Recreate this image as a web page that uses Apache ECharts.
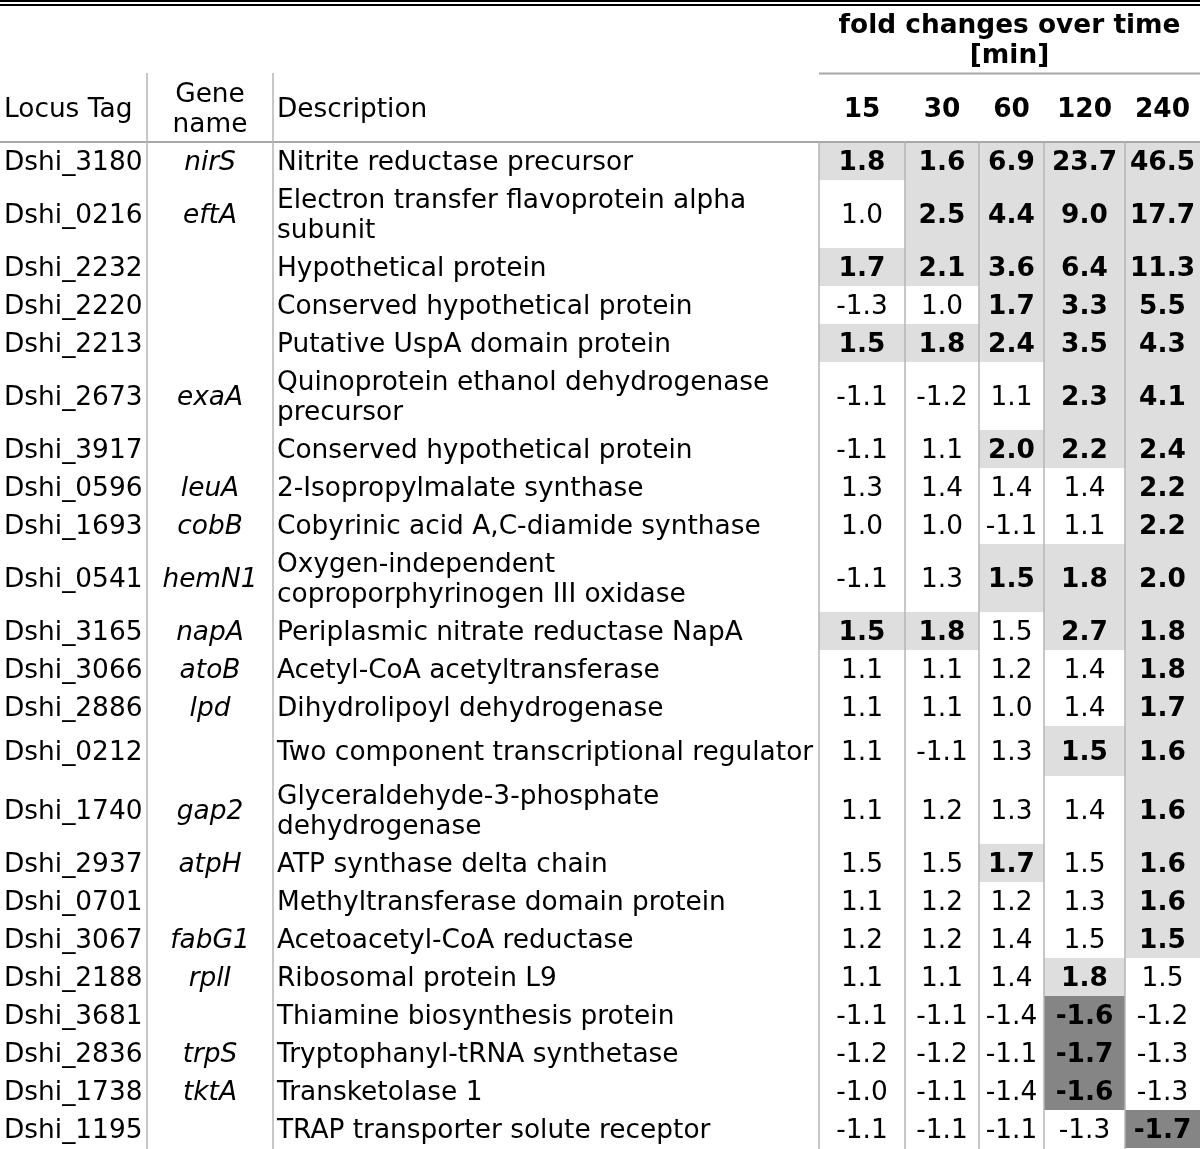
<!DOCTYPE html>
<html>
<head>
<meta charset="utf-8">
<script src="https://cdn.jsdelivr.net/npm/echarts@6/dist/echarts.min.js"></script>
<style>html,body{margin:0;padding:0;background:#fff;}#c{width:1200px;height:1149px;}</style>
</head>
<body>
<div id="c"></div>
<script>
// ---------- DATA ----------
const locusTags = ['Dshi_3180','Dshi_0216','Dshi_2232','Dshi_2220','Dshi_2213','Dshi_2673','Dshi_3917','Dshi_0596','Dshi_1693','Dshi_0541','Dshi_3165','Dshi_3066','Dshi_2886','Dshi_0212','Dshi_1740','Dshi_2937','Dshi_0701','Dshi_3067','Dshi_2188','Dshi_3681','Dshi_2836','Dshi_1738','Dshi_1195'];
const geneNames = ['nirS','eftA','','','','exaA','','leuA','cobB','hemN1','napA','atoB','lpd','','gap2','atpH','','fabG1','rplI','','trpS','tktA',''];
const descriptions = [
  'Nitrite reductase precursor',
  'Electron transfer flavoprotein alpha\nsubunit',
  'Hypothetical protein',
  'Conserved hypothetical protein',
  'Putative UspA domain protein',
  'Quinoprotein ethanol dehydrogenase\nprecursor',
  'Conserved hypothetical protein',
  '2-Isopropylmalate synthase',
  'Cobyrinic acid A,C-diamide synthase',
  'Oxygen-independent\ncoproporphyrinogen III oxidase',
  'Periplasmic nitrate reductase NapA',
  'Acetyl-CoA acetyltransferase',
  'Dihydrolipoyl dehydrogenase',
  'Two component transcriptional regulator',
  'Glyceraldehyde-3-phosphate\ndehydrogenase',
  'ATP synthase delta chain',
  'Methyltransferase domain protein',
  'Acetoacetyl-CoA reductase',
  'Ribosomal protein L9',
  'Thiamine biosynthesis protein',
  'Tryptophanyl-tRNA synthetase',
  'Transketolase 1',
  'TRAP transporter solute receptor'
];
const timePoints = ['15','30','60','120','240'];
const headerLabels = ['Locus Tag','Gene\nname','Description'];
const groupTitle = 'fold changes over time\n[min]';

const fc15  = [1.8,1.0,1.7,-1.3,1.5,-1.1,-1.1,1.3,1.0,-1.1,1.5,1.1,1.1,1.1,1.1,1.5,1.1,1.2,1.1,-1.1,-1.2,-1.0,-1.1];
const fc30  = [1.6,2.5,2.1,1.0,1.8,-1.2,1.1,1.4,1.0,1.3,1.8,1.1,1.1,-1.1,1.2,1.5,1.2,1.2,1.1,-1.1,-1.2,-1.1,-1.1];
const fc60  = [6.9,4.4,3.6,1.7,2.4,1.1,2.0,1.4,-1.1,1.5,1.5,1.2,1.0,1.3,1.3,1.7,1.2,1.4,1.4,-1.4,-1.1,-1.4,-1.1];
const fc120 = [23.7,9.0,6.4,3.3,3.5,2.3,2.2,1.4,1.1,1.8,2.7,1.4,1.4,1.5,1.4,1.5,1.3,1.5,1.8,-1.6,-1.7,-1.6,-1.3];
const fc240 = [46.5,17.7,11.3,5.5,4.3,4.1,2.4,2.2,2.2,2.0,1.8,1.8,1.7,1.6,1.6,1.6,1.6,1.5,1.5,-1.2,-1.3,-1.3,-1.7];

const sig15  = [1,0,1,0,1,0,0,0,0,0,1,0,0,0,0,0,0,0,0,0,0,0,0];
const sig30  = [1,1,1,0,1,0,0,0,0,0,1,0,0,0,0,0,0,0,0,0,0,0,0];
const sig60  = [1,1,1,1,1,0,1,0,0,1,0,0,0,0,0,1,0,0,0,0,0,0,0];
const sig120 = [1,1,1,1,1,1,1,0,0,1,1,0,0,1,0,0,0,0,1,1,1,1,0];
const sig240 = [1,1,1,1,1,1,1,1,1,1,1,1,1,1,1,1,1,1,0,0,0,0,1];

// ---------- LAYOUT / STYLE ----------
const W = 1200, H = 1149, headerBottom = 142;
const colEdges = [0,147,273,819,905,979,1044,1125,1200];
const baseRowH = 38, extraLineH = 30;
const extraPad = {13: 12};
const FONT = '"DejaVu Sans", Verdana, sans-serif';
const FS = 26.4;
const DY = 2.5;
const LIGHT = '#dedede', DARK = '#858585', RULE = '#b4b4b4';

const fcCols = [fc15, fc30, fc60, fc120, fc240];
const sigCols = [sig15, sig30, sig60, sig120, sig240];

const rowH = descriptions.map((d, i) => baseRowH + extraLineH * (d.split('\n').length - 1) + (extraPad[i] || 0));
const rowTop = [];
let acc = 0;
rowH.forEach(h => { rowTop.push(acc); acc += h; });
const bodyH = acc;

const chart = echarts.init(document.getElementById('c'), null, {renderer: 'canvas'});

function txt(text, x, y, align, opts) {
  return {
    type: 'text',
    style: Object.assign({
      text: text, x: x, y: y + DY, align: align, verticalAlign: 'middle',
      fontFamily: FONT, fontSize: FS, fill: '#000', lineHeight: 30
    }, opts || {})
  };
}

function renderRow(params, api) {
  const r = api.value(0);
  const y0 = rowTop[r], y1 = rowTop[r] + rowH[r];
  const children = [];
  const p = (x, y) => api.coord([x, y]);
  const top = p(0, y0)[1], bot = p(0, y1)[1], mid = (top + bot) / 2;
  children.push(txt(locusTags[r], p(colEdges[0], y0)[0] + 4, mid, 'left'));
  if (geneNames[r]) {
    const cx = (p(colEdges[1], y0)[0] + p(colEdges[2], y0)[0]) / 2;
    children.push(txt(geneNames[r], cx, mid, 'center', {fontStyle: 'italic'}));
  }
  children.push(txt(descriptions[r], p(colEdges[2], y0)[0] + 4, mid, 'left'));
  for (let k = 0; k < 5; k++) {
    const v = fcCols[k][r];
    const s = sigCols[k][r];
    const xa = p(colEdges[3 + k], y0)[0], xb = p(colEdges[4 + k], y0)[0];
    if (s) {
      children.push({
        type: 'rect',
        shape: {x: xa, y: top, width: xb - xa, height: bot - top},
        style: {fill: v < 0 ? DARK : LIGHT}
      });
    }
    children.push(txt(v.toFixed(1), (xa + xb) / 2, mid, 'center', s ? {fontWeight: 'bold'} : {}));
  }
  return {type: 'group', children: children};
}

function htxt(text, x, y, align, opts) {
  return {type: 'text', z: 11, style: Object.assign({text: text, x: x, y: y + DY, align: align, verticalAlign: 'middle', fontFamily: FONT, fontSize: FS, lineHeight: 30, fill: '#000'}, opts || {})};
}

const graphics = [];
graphics.push({type: 'rect', shape: {x: 0, y: 0, width: W, height: 2}, style: {fill: '#000'}, z: 10});
graphics.push({type: 'rect', shape: {x: 0, y: 4, width: W, height: 2}, style: {fill: '#000'}, z: 10});
graphics.push({type: 'rect', shape: {x: colEdges[3], y: 72.5, width: W - colEdges[3], height: 2}, style: {fill: '#a8a8a8'}, z: 10});
graphics.push({type: 'rect', shape: {x: 0, y: headerBottom - 1, width: W, height: 2}, style: {fill: '#a8a8a8'}, z: 10});
[1, 2].forEach(c => graphics.push({type: 'rect', shape: {x: colEdges[c] - 0.75, y: 73, width: 1.5, height: H - 73}, style: {fill: RULE}, z: 10}));
[3, 4, 5, 6, 7].forEach(c => graphics.push({type: 'rect', shape: {x: colEdges[c] - 0.75, y: headerBottom, width: 1.5, height: H - headerBottom}, style: {fill: RULE}, z: 10}));
graphics.push(htxt(groupTitle, (colEdges[3] + W) / 2, 39, 'center', {fontWeight: 'bold'}));
graphics.push(htxt(headerLabels[0], 4, 108, 'left'));
graphics.push(htxt(headerLabels[1], (colEdges[1] + colEdges[2]) / 2, 108, 'center'));
graphics.push(htxt(headerLabels[2], colEdges[2] + 4, 108, 'left'));
timePoints.forEach((t, k) => graphics.push(htxt(t, (colEdges[3 + k] + colEdges[4 + k]) / 2, 108, 'center', {fontWeight: 'bold'})));

chart.setOption({
  animation: false,
  backgroundColor: '#fff',
  grid: {left: 0, right: 0, top: headerBottom, height: bodyH},
  xAxis: {type: 'value', min: 0, max: W, show: false},
  yAxis: {type: 'value', min: 0, max: bodyH, inverse: true, show: false},
  graphic: graphics,
  series: [{
    type: 'custom',
    renderItem: renderRow,
    data: locusTags.map((_, i) => [i]),
    encode: {x: -1, y: 0},
    clip: false,
    silent: true
  }]
});
</script>
</body>
</html>
